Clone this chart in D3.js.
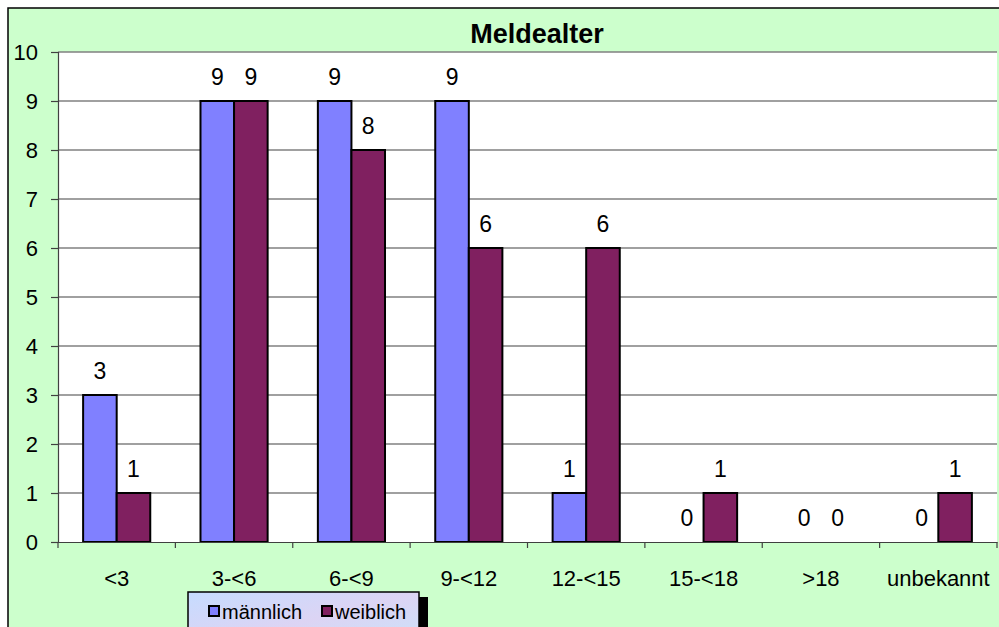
<!DOCTYPE html>
<html>
<head>
<meta charset="utf-8">
<script src="https://cdn.jsdelivr.net/npm/d3@7"></script>
<style>
  body { margin: 0; background: #fff; }
  svg { display: block; font-family: Arial, "Liberation Sans", sans-serif; }
</style>
</head>
<body>
<svg id="chart" width="999" height="627"></svg>
<script>
// data
var categories = ["<3", "3-<6", "6-<9", "9-<12", "12-<15", "15-<18", ">18", "unbekannt"];
var maennlich = [3, 9, 9, 9, 1, 0, 0, 0];
var weiblich = [1, 9, 8, 6, 6, 1, 0, 1];
var seriesNames = ["männlich", "weiblich"];
var seriesColors = ["#8080ff", "#802060"];
var yTicks = [0, 1, 2, 3, 4, 5, 6, 7, 8, 9, 10];

var svg = d3.select("#chart");
var plot = {left: 58, right: 997, top: 52, bottom: 542};

// gradient for the legend fill
var defs = svg.append("defs");
var grad = defs.append("linearGradient").attr("id", "legfill")
    .attr("x1", 0).attr("y1", 0).attr("x2", 1).attr("y2", 1);
grad.append("stop").attr("offset", "0%").attr("stop-color", "#c6dcff");
grad.append("stop").attr("offset", "50%").attr("stop-color", "#dcd4f4");
grad.append("stop").attr("offset", "100%").attr("stop-color", "#c8e4fa");

// chart area
svg.append("rect").attr("x", 8).attr("y", 8).attr("width", 1100).attr("height", 700)
    .attr("fill", "#ccffcc").attr("stroke", "#000").attr("stroke-width", 1.5);

svg.append("rect").attr("x", plot.left).attr("y", plot.top)
    .attr("width", plot.right - plot.left).attr("height", plot.bottom - plot.top)
    .attr("fill", "#ffffff");

var x0 = d3.scaleBand().domain(categories).range([plot.left, plot.right]).padding(0);
var bw = x0.bandwidth();
var x1 = d3.scaleBand().domain(seriesNames).range([bw * 0.214, bw * 0.786]).padding(0);
var y = d3.scaleLinear().domain([0, 10]).range([plot.bottom, plot.top]);

// gridlines
svg.append("g").selectAll("line").data(yTicks.filter(function(d){return d > 0;}))
  .enter().append("line")
    .attr("x1", plot.left).attr("x2", plot.right)
    .attr("y1", function(d){return y(d);}).attr("y2", function(d){return y(d);})
    .attr("stroke", "#808080").attr("stroke-width", 1.6);

// y axis
var yAxis = d3.axisLeft(y).tickValues(yTicks).tickSize(7).tickPadding(13)
    .tickFormat(d3.format("d"));
var gy = svg.append("g").attr("transform", "translate(" + plot.left + ",0)").call(yAxis);
gy.select(".domain").attr("stroke", "#404040").attr("stroke-width", 1.2);
gy.selectAll(".tick line").attr("stroke", "#404040").attr("stroke-width", 1.2);
gy.selectAll(".tick text").attr("font-size", 22).attr("fill", "#000")
    .attr("font-family", "Arial, 'Liberation Sans', sans-serif");

// bars
var rows = categories.map(function(c, i){
  return [{v: maennlich[i], s: 0}, {v: weiblich[i], s: 1}];
});
var groups = svg.append("g").selectAll("g").data(rows).enter().append("g")
    .attr("transform", function(d, i){ return "translate(" + x0(categories[i]) + ",0)"; });

groups.selectAll("rect").data(function(d){ return d.filter(function(e){ return e.v > 0; }); })
  .enter().append("rect")
    .attr("x", function(d){ return x1(seriesNames[d.s]); })
    .attr("y", function(d){ return y(d.v); })
    .attr("width", x1.bandwidth())
    .attr("height", function(d){ return y(0) - y(d.v); })
    .attr("fill", function(d){ return seriesColors[d.s]; })
    .attr("stroke", "#000").attr("stroke-width", 2);

groups.selectAll("text").data(function(d){ return d; }).enter().append("text")
    .attr("x", function(d){ return x1(seriesNames[d.s]) + x1.bandwidth() / 2; })
    .attr("y", function(d){ return y(d.v) - 16; })
    .attr("text-anchor", "middle").attr("font-size", 23)
    .text(function(d){ return d.v; });

// x axis
var xAxis = d3.axisBottom(x0).tickSize(0).tickPadding(28);
var gx = svg.append("g").attr("transform", "translate(0," + plot.bottom + ")").call(xAxis);
gx.select(".domain").attr("stroke", "#404040").attr("stroke-width", 1.2);
gx.selectAll(".tick text").attr("font-size", 22).attr("fill", "#000")
    .attr("font-family", "Arial, 'Liberation Sans', sans-serif");
gx.selectAll("line.sep").data(categories.concat(["end"])).enter().append("line")
    .attr("class", "sep")
    .attr("x1", function(d, i){ return plot.left + i * bw; })
    .attr("x2", function(d, i){ return plot.left + i * bw; })
    .attr("y1", 0).attr("y2", 6)
    .attr("stroke", "#404040").attr("stroke-width", 1.2);

// title
svg.append("text").attr("x", 537).attr("y", 43).attr("text-anchor", "middle")
    .attr("font-size", 27).attr("font-weight", "bold").text("Meldealter");

// legend
var leg = svg.append("g");
leg.append("rect").attr("x", 197).attr("y", 597).attr("width", 231).attr("height", 60)
    .attr("fill", "#000");
leg.append("rect").attr("x", 188).attr("y", 592).attr("width", 231).attr("height", 60)
    .attr("fill", "url(#legfill)").attr("stroke", "#000").attr("stroke-width", 1.5);
var legX = [209, 322];
seriesNames.forEach(function(name, i) {
  leg.append("rect").attr("x", legX[i]).attr("y", 606).attr("width", 10).attr("height", 10)
      .attr("fill", seriesColors[i]).attr("stroke", "#000").attr("stroke-width", 2);
  leg.append("text").attr("x", legX[i] + 13).attr("y", 619).attr("font-size", 20)
      .text(name);
});
</script>
</body>
</html>
